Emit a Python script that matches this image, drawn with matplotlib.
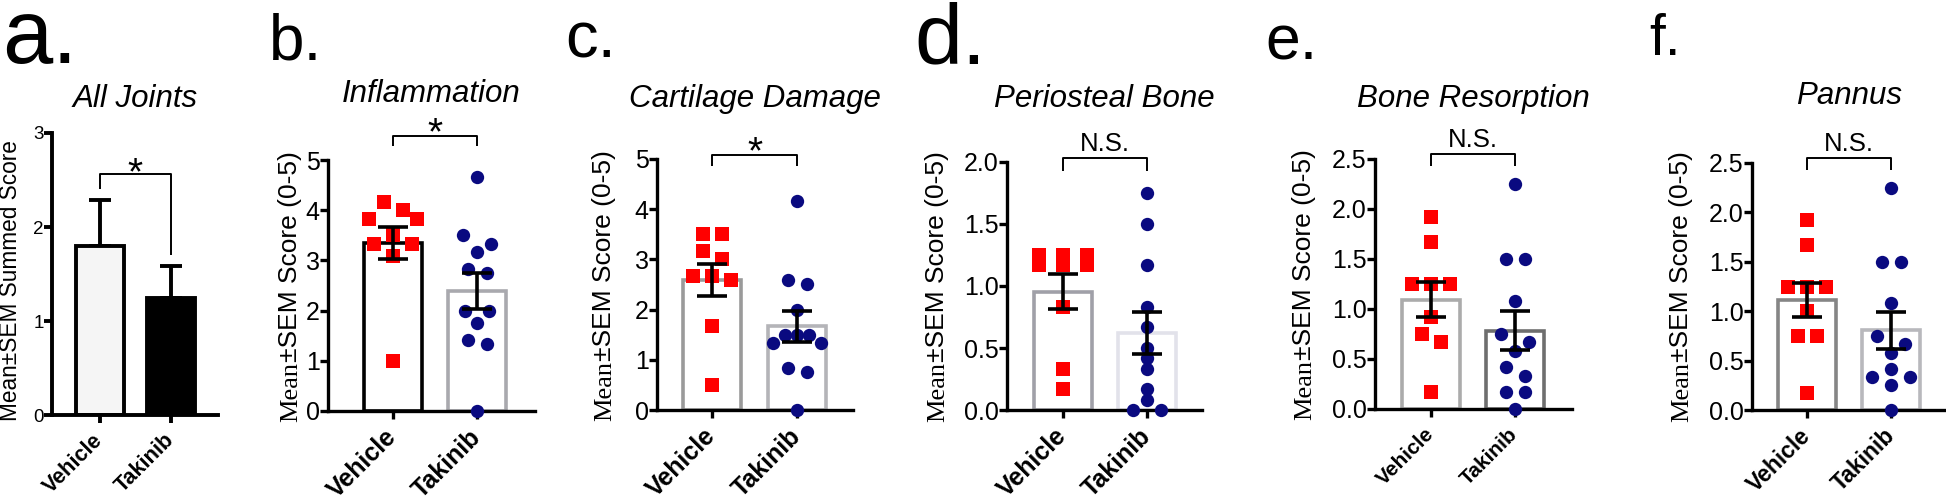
import numpy as np
import matplotlib
matplotlib.use('Agg')
import matplotlib.pyplot as plt
from matplotlib.font_manager import FontProperties

plt.rcParams['font.family'] = ['Liberation Sans', 'DejaVu Sans']

W, H = 1946, 503
groups = ['Vehicle', 'Takinib']

# a. all joints (summary only)
joints_mean = [1.80, 1.25]
joints_sem = [0.49, 0.34]

# b-f. individual animal scores
inflam_veh = [4.17, 4.0, 3.83, 3.83, 3.5, 3.33, 3.33, 3.08, 1.0]
inflam_tak = [4.67, 3.5, 3.33, 3.17, 2.83, 2.75, 2.0, 2.0, 1.75, 1.42, 1.33, 0.0]
cart_veh = [3.5, 3.5, 3.17, 3.0, 2.67, 2.67, 2.58, 1.67, 0.5]
cart_tak = [4.17, 2.58, 2.5, 2.0, 1.5, 1.5, 1.5, 1.33, 1.33, 0.83, 0.75, 0.0]
peri_veh = [1.25, 1.25, 1.25, 1.17, 1.17, 1.17, 0.83, 0.33, 0.17]
peri_tak = [1.75, 1.5, 1.17, 0.83, 0.67, 0.5, 0.42, 0.33, 0.17, 0.08, 0.0, 0.0]
resorp_veh = [1.92, 1.67, 1.25, 1.25, 1.25, 0.92, 0.75, 0.67, 0.17]
resorp_tak = [2.25, 1.5, 1.5, 1.08, 0.75, 0.67, 0.58, 0.42, 0.33, 0.17, 0.17, 0.0]
pannus_veh = [1.92, 1.67, 1.25, 1.25, 1.25, 1.0, 0.75, 0.75, 0.17]
pannus_tak = [2.25, 1.5, 1.5, 1.08, 0.75, 0.67, 0.58, 0.42, 0.33, 0.33, 0.25, 0.0]

RED = '#ff0000'
NAVY = '#0a0a80'

fig = plt.figure(figsize=(W / 100, H / 100), dpi=100)


def px_axes(box, c0, c1, ymax, lw):
    l, r, t, b = box
    ax = fig.add_axes([l / W, 1 - b / H, (r - l) / W, (b - t) / H])
    u = c1 - c0
    ax.set_xlim((l - c0) / u, (r - c0) / u)
    ax.set_ylim(0, ymax)
    ax.patch.set_visible(False)
    for s in ['top', 'right']:
        ax.spines[s].set_visible(False)
    for s in ['left', 'bottom']:
        ax.spines[s].set_linewidth(lw)
        ax.spines[s].set_capstyle('projecting')
    return ax, u, (b - t) / ymax


def swarm(vals, ppu_y, ppu_x, d=19.0, c=16.0, max_half=24.0):
    # GraphPad-like scatter: rows of similar values spread symmetrically
    vals = np.asarray(vals, float)
    ys = vals * ppu_y
    order = np.argsort(-vals, kind='stable')
    rows = []
    for i in order:
        if rows and ys[rows[-1][0]] - ys[i] < d / 2:
            rows[-1].append(i)
        else:
            rows.append([i])
    gaps = [min(d, 2 * max_half / max(len(rw) - 1, 1)) for rw in rows]

    def slots(m, g):
        pos = [(k - (m - 1) / 2) * g for k in range(m)]
        return sorted(pos, key=lambda p: (abs(p), p))

    def place(r):
        return [(x, ys[i]) for x, i in zip(slots(len(rows[r]), gaps[r]), rows[r])]

    for _ in range(100):
        moved = False
        for a in range(len(rows)):
            for b in range(a + 1, len(rows)):
                hit = False
                for xa, ya in place(a):
                    for xb, yb in place(b):
                        if xa == 0 and xb == 0:
                            continue
                        if np.hypot(xa - xb, ya - yb) < c:
                            hit = True
                if not hit:
                    continue
                for r in (b, a):
                    m = len(rows[r])
                    if m > 1 and (gaps[r] + d / 4) * (m - 1) / 2 <= max_half:
                        gaps[r] += d / 4
                        moved = True
                        break
        if not moved:
            break
    offs = np.zeros(len(vals))
    for r in range(len(rows)):
        for x, i in zip(slots(len(rows[r]), gaps[r]), rows[r]):
            offs[i] = x / ppu_x
    return offs


def ylabel_parts(xb, yc, parts, size):
    renderer = fig.canvas.get_renderer()
    props = [FontProperties(family=fam, size=size) for _, fam in parts]
    widths = [renderer.get_text_width_height_descent(s, fp, ismath=False)[0]
              for (s, _), fp in zip(parts, props)]
    y0 = (H - yc) - sum(widths) / 2
    for (s, _), fp, w in zip(parts, props, widths):
        fig.text(xb / W, y0 / H, s, rotation=90, rotation_mode='anchor',
                 ha='left', va='baseline', fontproperties=fp)
        y0 += w


def style_ticks(ax, yticks, fmt, ysize, xsize, lw):
    ax.set_yticks(yticks)
    ax.set_yticklabels([fmt.format(v) for v in yticks])
    ax.set_xticks([0, 1])
    ax.set_xticklabels(groups, rotation=45, ha='right', va='center',
                       rotation_mode='anchor', fontweight='bold', fontsize=xsize)
    ax.tick_params(axis='y', length=5.5, width=lw, pad=0.5, labelsize=ysize)
    ax.tick_params(axis='x', length=6, width=lw, pad=10)


def bracket(ax, top, left_end, right_end, text, size, off):
    ax.plot([0, 0, 1, 1], [left_end, top, top, right_end], color='black',
            lw=1.4, clip_on=False, solid_capstyle='butt', zorder=6)
    ax.annotate(text, xy=(0.5, top), xytext=(0, off), textcoords='offset points',
                ha='center', va='baseline', fontsize=size, annotation_clip=False)


# ---- panel a ----
ax, u, ppu = px_axes((52, 218, 133, 415), 100, 171, 3, 2.8)
ax.bar([0, 1], joints_mean, width=48 / u, color=['#f5f5f5', 'black'],
       edgecolor='black', linewidth=2.8, zorder=2)
ax.errorbar([0, 1], joints_mean, yerr=[[0, 0], joints_sem], fmt='none',
            ecolor='black', elinewidth=2.8, capsize=8, capthick=2.8, zorder=1.5)
style_ticks(ax, [0, 1, 2, 3], '{:.0f}', 13.5, 15.5, 2.8)
bracket(ax, 2.56, 2.40, 1.70, '*', 28, -7.5)
fig.text(135 / W, 1 - 107 / H, 'All Joints', ha='center', va='baseline',
         fontsize=22.5, style='italic')
fig.text(2 / W, 1 - 63 / H, 'a.', fontsize=65, va='baseline')
ylabel_parts(17, 281, [('Mean\u00b1SEM Summed Score', 'Liberation Sans')], 16.3)

# ---- panels b-f ----
panels = [
    dict(letter='b.', title='Inflammation', veh=inflam_veh, tak=inflam_tak,
         ymax=5, ticks=[0, 1, 2, 3, 4, 5], fmt='{:.0f}', sig='*',
         br=(5.48, 5.27, 5.27), edges=('black', '#a9a9ae'),
         box=(328, 535, 160, 411), cen=(393, 477), title_y=102,
         lab=(269, 60, 46), ylab=(297, 287), xsize=18),
    dict(letter='c.', title='Cartilage Damage', veh=cart_veh, tak=cart_tak,
         ymax=5, ticks=[0, 1, 2, 3, 4, 5], fmt='{:.0f}', sig='*',
         br=(5.08, 4.86, 4.86), edges=('#9a9a9a', '#b4b4b8'),
         box=(657, 853, 159, 410), cen=(712, 797), title_y=107,
         lab=(565, 58, 47), ylab=(611, 286), xsize=18),
    dict(letter='d.', title='Periosteal Bone', veh=peri_veh, tak=peri_tak,
         ymax=2, ticks=[0, 0.5, 1.0, 1.5, 2.0], fmt='{:.1f}', sig='N.S.',
         br=(2.03, 1.93, 1.93), edges=('#a0a0a8', '#e2e2ea'),
         box=(1007, 1202, 162, 410), cen=(1063, 1147), title_y=107,
         lab=(914, 63, 62), ylab=(944, 287), xsize=18),
    dict(letter='e.', title='Bone Resorption', veh=resorp_veh, tak=resorp_tak,
         ymax=2.5, ticks=[0, 0.5, 1.0, 1.5, 2.0, 2.5], fmt='{:.1f}', sig='N.S.',
         br=(2.55, 2.43, 2.43), edges=('#ababab', '#6e6e6e'),
         box=(1375, 1572, 159, 409), cen=(1431, 1515), title_y=107,
         lab=(1265, 59, 45), ylab=(1311, 285), xsize=15),
    dict(letter='f.', title='Pannus', veh=pannus_veh, tak=pannus_tak,
         ymax=2.5, ticks=[0, 0.5, 1.0, 1.5, 2.0, 2.5], fmt='{:.1f}', sig='N.S.',
         br=(2.55, 2.43, 2.43), edges=('#858585', '#b8b8bc'),
         box=(1752, 1946, 163, 410), cen=(1807, 1891), title_y=104,
         lab=(1649, 55, 41), ylab=(1688, 287), xsize=16.5),
]
sig_off = {'*': -6, 'N.S.': 5}

for p in panels:
    ax, u, ppu = px_axes(p['box'], p['cen'][0], p['cen'][1], p['ymax'], 2.4)
    data = [np.array(p['veh']), np.array(p['tak'])]
    means = [v.mean() for v in data]
    sems = [v.std(ddof=1) / np.sqrt(len(v)) for v in data]
    ax.bar([0, 1], means, width=58 / u, color='white', edgecolor=p['edges'],
           linewidth=2.6, zorder=2)
    for k, (v, mk, col, sz) in enumerate(zip(data, ['s', 'o'], [RED, NAVY], [115, 92])):
        xs = k + swarm(v, ppu, u)
        ax.scatter(xs, v, marker=mk, s=sz, color=col, linewidths=0,
                   zorder=3, clip_on=False)
    ax.errorbar([0, 1], means, yerr=sems, fmt='none', ecolor='black',
                elinewidth=2.6, capsize=11, capthick=2.6, zorder=5)
    style_ticks(ax, p['ticks'], p['fmt'], 18, p['xsize'], 2.4)
    top, le, re = p['br']
    bracket(ax, top, le, re, p['sig'], 28 if p['sig'] == '*' else 18.5,
            sig_off[p['sig']])
    xc = (p['box'][0] + p['box'][1]) / 2
    fig.text(xc / W, 1 - p['title_y'] / H, p['title'], ha='center',
             va='baseline', fontsize=22.5, style='italic')
    lx, ly, ls = p['lab']
    fig.text(lx / W, 1 - ly / H, p['letter'], fontsize=ls, va='baseline')
    ylabel_parts(p['ylab'][0], p['ylab'][1],
                 [('Mean', 'Liberation Serif'),
                  ('\u00b1SEM Score (0-5)', 'Liberation Sans')], 19)

fig.savefig('out.png', dpi=100)
